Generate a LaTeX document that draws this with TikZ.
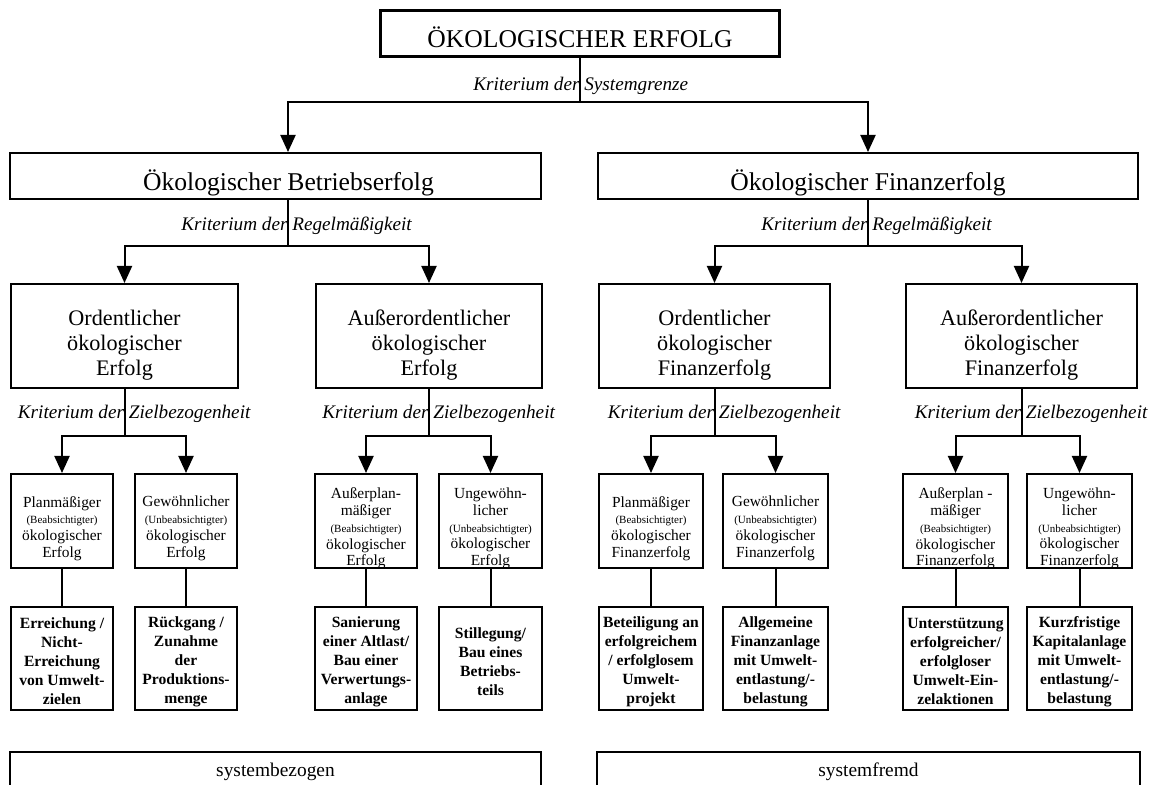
\documentclass[tikz,border=0pt]{standalone}
\usepackage{fontspec}
\setmainfont{Liberation Serif}
\usetikzlibrary{arrows.meta}

\begin{document}
\begin{tikzpicture}[x=0.5pt,y=-0.5pt,
  box/.style={draw, line width=1pt, inner sep=1pt},
  big/.style={box, minimum height=23pt, text height=17.5pt, text depth=3pt,
    font=\fontsize{12.8}{15}\selectfont},
  mid/.style={box, minimum height=52pt},
  midtxt/.style={align=center, yshift=-4.5pt, font=\fontsize{11.1}{12.5}\selectfont},
  small/.style={box, minimum height=47pt},
  smalltxt/.style={align=center, yshift=-3.75pt, font=\fontsize{7.7}{8.4}\selectfont},
  ex/.style={box, minimum height=51.5pt},
  extxt/.style={align=center, yshift=-1.5pt, font=\fontsize{7.8}{9.5}\selectfont\bfseries},
  link/.style={line width=1pt},
  arr/.style={line width=1pt, -{Triangle[length=8.5pt,width=7.5pt]}},
  crit/.style={anchor=base west, inner sep=0pt, xshift=-53.5pt,
    font=\fontsize{9.6}{11}\selectfont\itshape}]

  \useasboundingbox (0,0) rectangle (1151,785);
  \newcommand{\paren}[1]{{\fontsize{5.5}{6}\selectfont(#1)}}

  % oben
  \node[big, line width=1.4pt, minimum width=199.5pt] (top) at (580,33.5) {ÖKOLOGISCHER ERFOLG};
  \coordinate (j0) at (580,102);
  \node[crit] (c0) at (580,91) {Kriterium der Systemgrenze};

  % Betriebs- und Finanzerfolg
  \node[big, minimum width=265.5pt] (bet) at (275.5,176) {\hspace*{13pt}Ökologischer Betriebserfolg};
  \node[big, minimum width=270pt] (fin) at (868,176) {Ökologischer Finanzerfolg};
  \draw[link] (top) -- (j0);
  \draw[arr] (j0) -| ([xshift=6.25pt]bet.north);
  \draw[arr] (j0) -| (fin);

  \coordinate (j1) at (288,246);
  \coordinate (j2) at (868,246);
  \node[crit] (c1) at (288,231) {Kriterium der Regelmäßigkeit};
  \node[crit] (c2) at (868,231) {Kriterium der Regelmäßigkeit};

  % Regelmaessigkeit
  \node[mid, minimum width=113.5pt, label={[midtxt]center:{Ordentlicher\\ökologischer\\Erfolg}}] (ord1) at (124.5,336) {};
  \node[mid, minimum width=113pt, label={[midtxt]center:{Außerordentlicher\\ökologischer\\Erfolg}}] (aor1) at (429,336) {};
  \node[mid, minimum width=115.5pt, label={[midtxt]center:{Ordentlicher\\ökologischer\\Finanzerfolg}}] (ord2) at (714.5,336) {};
  \node[mid, minimum width=115.5pt, label={[midtxt]center:{Außerordentlicher\\ökologischer\\Finanzerfolg}}] (aor2) at (1021.5,336) {};
  \draw[link] (bet.south -| j1) -- (j1);
  \draw[arr] (j1) -| (ord1);
  \draw[arr] (j1) -| (aor1);
  \draw[link] (fin) -- (j2);
  \draw[arr] (j2) -| (ord2);
  \draw[arr] (j2) -| (aor2);

  % Zielbezogenheit
  \coordinate (j3) at (124.5,436);
  \coordinate (j4) at (429,436);
  \coordinate (j5) at (714.5,436);
  \coordinate (j6) at (1021.5,436);
  \foreach \j in {3,...,6}
    \node[crit] (c\j) at ([yshift=8.5pt]j\j) {Kriterium der Zielbezogenheit};

  \node[small, minimum width=51pt, label={[smalltxt]center:{Planmäßiger\\\paren{Beabsichtigter}\\ökologischer\\Erfolg}}] (kP1) at (62,521) {};
  \node[small, minimum width=51pt, label={[smalltxt]center:{Gewöhnlicher\\\paren{Unbeabsichtigter}\\ökologischer\\Erfolg}}] (kG1) at (186,521) {};
  \node[small, minimum width=51pt, label={[smalltxt]center:{Außerplan-\\mäßiger\\\paren{Beabsichtigter}\\ökologischer\\Erfolg}}] (kA1) at (366,521) {};
  \node[small, minimum width=51.5pt, label={[smalltxt]center:{Ungewöhn-\\licher\\\paren{Unbeabsichtigter}\\ökologischer\\Erfolg}}] (kU1) at (490.5,521) {};
  \node[small, minimum width=52pt, label={[smalltxt]center:{Planmäßiger\\\paren{Beabsichtigter}\\ökologischer\\Finanzerfolg}}] (kP2) at (651,521) {};
  \node[small, minimum width=52.5pt, label={[smalltxt]center:{Gewöhnlicher\\\paren{Unbeabsichtigter}\\ökologischer\\Finanzerfolg}}] (kG2) at (775.5,521) {};
  \node[small, minimum width=52.5pt, label={[smalltxt]center:{Außerplan -\\mäßiger\\\paren{Beabsichtigter}\\ökologischer\\Finanzerfolg}}] (kA2) at (955.5,521) {};
  \node[small, minimum width=52.5pt, label={[smalltxt]center:{Ungewöhn-\\licher\\\paren{Unbeabsichtigter}\\ökologischer\\Finanzerfolg}}] (kU2) at (1079.5,521) {};

  \draw[link] (ord1) -- (j3);
  \draw[link] (aor1) -- (j4);
  \draw[link] (ord2) -- (j5);
  \draw[link] (aor2) -- (j6);
  \draw[arr] (j3) -| (kP1);
  \draw[arr] (j3) -| (kG1);
  \draw[arr] (j4) -| (kA1);
  \draw[arr] (j4) -| (kU1);
  \draw[arr] (j5) -| (kP2);
  \draw[arr] (j5) -| (kG2);
  \draw[arr] (j6) -| (kA2);
  \draw[arr] (j6) -| (kU2);

  % Beispiele
  \node[ex, minimum width=51pt, label={[extxt]center:{Erreichung /\\Nicht-\\Erreichung\\von Umwelt-\\zielen}}] (bP1) at (62,658.5) {};
  \node[ex, minimum width=51pt, label={[extxt]center:{Rückgang /\\Zunahme\\der\\Produktions-\\menge}}] (bG1) at (186,658.5) {};
  \node[ex, minimum width=51pt, label={[extxt]center:{Sanierung\\einer Altlast/\\Bau einer\\Verwertungs-\\anlage}}] (bA1) at (366,658.5) {};
  \node[ex, minimum width=51.5pt, label={[extxt]center:{Stillegung/\\Bau eines\\Betriebs-\\teils}}] (bU1) at (490.5,658.5) {};
  \node[ex, minimum width=52pt, label={[extxt]center:{Beteiligung an\\erfolgreichem\\/ erfolglosem\\Umwelt-\\projekt}}] (bP2) at (651,658.5) {};
  \node[ex, minimum width=52.5pt, label={[extxt]center:{Allgemeine\\Finanzanlage\\mit Umwelt-\\entlastung/-\\belastung}}] (bG2) at (775.5,658.5) {};
  \node[ex, minimum width=52.5pt, label={[extxt]center:{Unterstützung\\erfolgreicher/\\erfolgloser\\Umwelt-Ein-\\zelaktionen}}] (bA2) at (955.5,658.5) {};
  \node[ex, minimum width=52.5pt, label={[extxt]center:{Kurzfristige\\Kapitalanlage\\mit Umwelt-\\entlastung/-\\belastung}}] (bU2) at (1079.5,658.5) {};
  \foreach \k in {P1,G1,A1,U1,P2,G2,A2,U2}
    \draw[link] (k\k) -- (b\k);

  % unten
  \node[box, minimum width=265.5pt, minimum height=20pt, font=\fontsize{9.7}{11}\selectfont] (sysb) at (275.5,772) {systembezogen};
  \node[box, minimum width=271.5pt, minimum height=20pt, font=\fontsize{9.7}{11}\selectfont] (sysf) at (868.5,772) {systemfremd};
\end{tikzpicture}
\end{document}
